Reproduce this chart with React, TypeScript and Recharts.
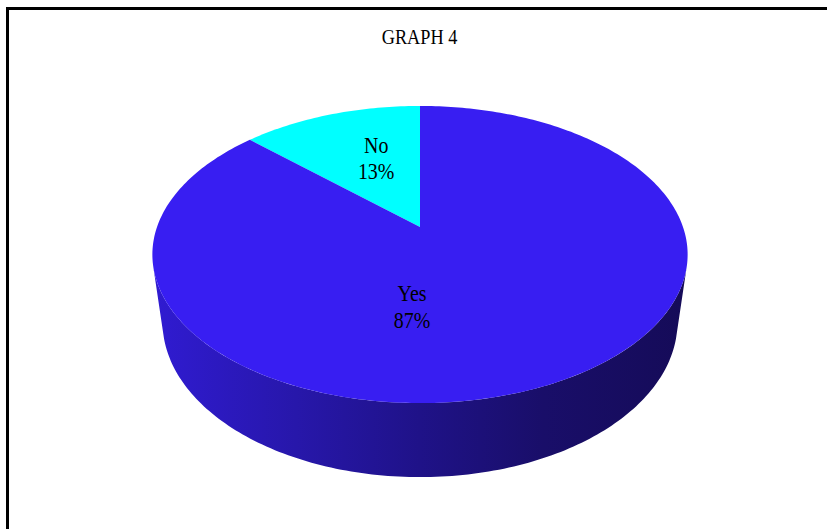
import React from 'react';
import { PieChart, Pie } from 'recharts';

// Survey answers
const categories = ['No', 'Yes'];
const responses = [13, 87];
const sliceColors = ['#00FFFF', '#381EF2'];
const chartTitle = 'GRAPH 4';

const pieData = categories.map((name, i) => ({ name, value: responses[i], fill: sliceColors[i] }));

const W = 827;
const H = 529;
const CX = 420;
const CY = 227;
const RADIUS = 263;

// Simple pinhole camera looking down on the disc
const TILT = (33.06 * Math.PI) / 180;
const DIST = 4.525;
const THICK = 0.317;
const FONT = '"Liberation Serif", "Times New Roman", serif';
const SQUEEZE = 0.83;

// Label placement inside the top face (radius fraction, angle nudge)
const labelSpot: Record<string, { r: number; turn: number }> = {
  No: { r: 0.55, turn: -4 },
  Yes: { r: 0.51, turn: -26.5 },
};

// Shading across the side wall, left (lit) to right (shaded)
const wallStops = [
  { o: 0, c: '#301BD2' },
  { o: 0.27, c: '#2717AA' },
  { o: 0.5, c: '#1F1288' },
  { o: 0.73, c: '#190E69' },
  { o: 1, c: '#150B58' },
];

function project(cx: number, cy: number, r: number, angle: number, level: number, frac = 1): [number, number] {
  const rad = (angle * Math.PI) / 180;
  const u = frac * Math.cos(rad);
  const v = -frac * Math.sin(rad);
  const depth = DIST - level * Math.sin(TILT) - v * Math.cos(TILT);
  const sy = level * Math.cos(TILT) - v * Math.sin(TILT);
  const f = r * DIST;
  return [cx + (f * u) / depth, cy - (f * sy) / depth];
}

function arcPoints(cx: number, cy: number, r: number, a0: number, a1: number, level: number) {
  const pts: [number, number][] = [];
  const steps = Math.max(2, Math.ceil(Math.abs(a1 - a0)));
  for (let i = 0; i <= steps; i++) {
    pts.push(project(cx, cy, r, a0 + ((a1 - a0) * i) / steps, level));
  }
  return pts;
}

const toPath = (pts: [number, number][]) =>
  pts.map((p, i) => `${i ? 'L' : 'M'}${p[0].toFixed(2)},${p[1].toFixed(2)}`).join('') + 'Z';

function TopShape(props: any) {
  const { cx, cy, outerRadius, startAngle, endAngle, fill } = props;
  const pts: [number, number][] = [[cx, cy], ...arcPoints(cx, cy, outerRadius, startAngle, endAngle, 0)];
  return <path d={toPath(pts)} fill={fill} stroke="none" />;
}

function WallShape(props: any) {
  const { cx, cy, outerRadius, startAngle, endAngle, index } = props;
  const lo = Math.min(startAngle, endAngle);
  const hi = Math.max(startAngle, endAngle);
  const edge = (Math.asin(1 / (DIST * Math.cos(TILT))) * 180) / Math.PI;
  const pieces: string[] = [];
  for (let k = -1; k <= 2; k++) {
    const a = 180 + edge + 360 * k;
    const b = 360 - edge + 360 * k;
    const s = Math.max(lo, a);
    const e = Math.min(hi, b);
    if (e > s) {
      const top = arcPoints(cx, cy, outerRadius, s, e, 0);
      const bottom = arcPoints(cx, cy, outerRadius, e, s, -THICK);
      pieces.push(toPath([...top, ...bottom]));
    }
  }
  if (!pieces.length) return <g />;
  const id = `wall-shade-${index}`;
  return (
    <g>
      <defs>
        <linearGradient id={id} gradientUnits="userSpaceOnUse" x1={cx - outerRadius * 1.02} y1={0} x2={cx + outerRadius * 1.02} y2={0}>
          {wallStops.map((s) => (
            <stop key={s.o} offset={s.o} stopColor={s.c} />
          ))}
        </linearGradient>
      </defs>
      {pieces.map((d, i) => (
        <path key={i} d={d} fill={`url(#${id})`} stroke="none" />
      ))}
    </g>
  );
}

function renderLabel(props: any) {
  const { cx, cy, outerRadius, midAngle, name, percent } = props;
  const spot = labelSpot[name] || { r: 0.55, turn: 0 };
  const [x, y] = project(cx, cy, outerRadius, midAngle + spot.turn, 0, spot.r);
  return (
    <g transform={`translate(${x},${y}) scale(${SQUEEZE},1)`}>
      <text textAnchor="middle" fontFamily={FONT} fontSize={24} fill="#000">
        <tspan x={0} y={-6.5}>{name}</tspan>
        <tspan x={0} y={20}>{`${Math.round(percent * 100)}%`}</tspan>
      </text>
    </g>
  );
}

const noMargin = { top: 0, right: 0, bottom: 0, left: 0 };

export default function App() {
  return (
    <div style={{ position: 'absolute', left: 0, top: 0, width: W, height: H, background: '#fff', overflow: 'hidden' }}>
      <div
        style={{
          position: 'absolute',
          left: 6,
          top: 7,
          width: W - 6,
          height: H - 7,
          borderTop: '3px solid #000',
          borderLeft: '3px solid #000',
          boxSizing: 'border-box',
        }}
      />
      <svg width={W} height={H} style={{ position: 'absolute', left: 0, top: 0 }}>
        <g transform={`translate(419.5,44) scale(${SQUEEZE},1)`}>
          <text textAnchor="middle" fontFamily={FONT} fontSize={22} fill="#000">
            {chartTitle}
          </text>
        </g>
      </svg>
      <div style={{ position: 'absolute', left: 0, top: 0 }}>
        <PieChart width={W} height={H} margin={noMargin}>
          <Pie
            data={pieData}
            dataKey="value"
            nameKey="name"
            cx={CX}
            cy={CY}
            outerRadius={RADIUS}
            startAngle={90}
            endAngle={450}
            stroke="none"
            isAnimationActive={false}
            labelLine={false}
            shape={WallShape}
          />
          <Pie
            data={pieData}
            dataKey="value"
            nameKey="name"
            cx={CX}
            cy={CY}
            outerRadius={RADIUS}
            startAngle={90}
            endAngle={450}
            stroke="none"
            isAnimationActive={false}
            labelLine={false}
            label={renderLabel}
            shape={TopShape}
          />
        </PieChart>
      </div>
    </div>
  );
}
